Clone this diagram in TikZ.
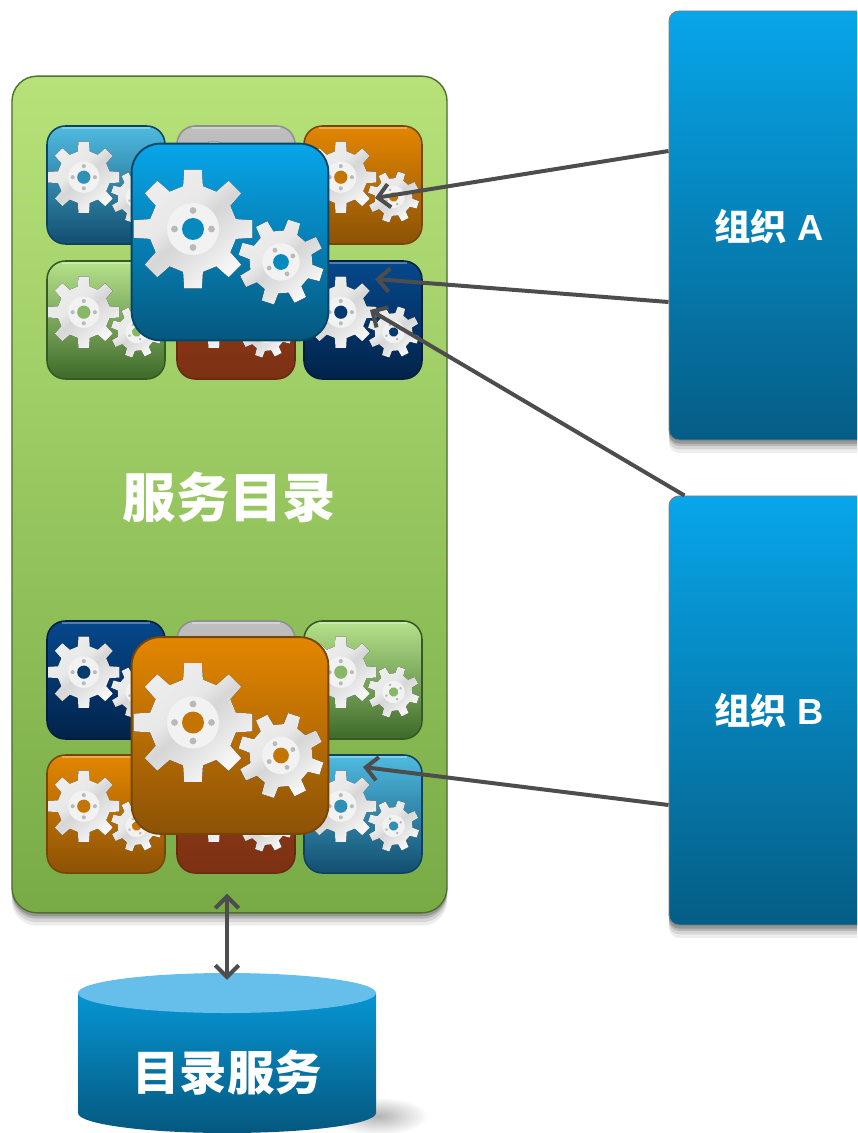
\documentclass[tikz,border=0pt]{standalone}
\usepackage{fontspec}
\setmainfont{Liberation Sans}
\newfontfamily\cjk{Noto Sans CJK SC}
\usetikzlibrary{shapes.geometric,shadows,arrows.meta}
\definecolor{skytop}{HTML}{07A6EA}
\definecolor{skybot}{HTML}{05587F}
\definecolor{skymid}{HTML}{0689BE}
\definecolor{palebluetop}{HTML}{4FBBE0}
\definecolor{palebluebot}{HTML}{124E70}
\definecolor{palebluemid}{HTML}{2F8FB4}
\definecolor{orangetop}{HTML}{E38600}
\definecolor{orangebot}{HTML}{8C5206}
\definecolor{orangemid}{HTML}{C47403}
\definecolor{navytop}{HTML}{05488C}
\definecolor{navybot}{HTML}{02234A}
\definecolor{navymid}{HTML}{033A70}
\definecolor{leaftop}{HTML}{B6E28C}
\definecolor{leafbot}{HTML}{3E6A2A}
\definecolor{leafmid}{HTML}{86B868}
\definecolor{greytop}{HTML}{BFBFBF}
\definecolor{greybot}{HTML}{A8A8A8}
\definecolor{rusttop}{HTML}{943D1A}
\definecolor{rustbot}{HTML}{7C3113}
\definecolor{paneltop}{HTML}{B7E27A}
\definecolor{panelbot}{HTML}{78AB46}
\definecolor{storetop}{HTML}{66BFEA}
\definecolor{arrowgrey}{HTML}{4D4D4D}
\pgfdeclarehorizontalshading{gearmetal}{100bp}{color(0bp)=(white!92!gray); color(42bp)=(white!82!gray); color(50bp)=(white!68!gray); color(60bp)=(white!78!gray); color(72bp)=(white!93!gray); color(100bp)=(white!88!gray)}
\tikzset{
  softshadow/.style={
    drop shadow={shadow xshift=0pt,shadow yshift=-11pt,opacity=.07,fill=black},
    drop shadow={shadow xshift=0pt,shadow yshift=-8pt,opacity=.10,fill=black},
    drop shadow={shadow xshift=0pt,shadow yshift=-5pt,opacity=.14,fill=black},
    drop shadow={shadow xshift=0pt,shadow yshift=-3pt,opacity=.18,fill=black}},
  panel/.style={draw=black!35!panelbot,line width=1.2pt,rounded corners=.75cm,minimum width=13.05cm,minimum height=25.1cm,
    top color=paneltop,bottom color=panelbot,softshadow},
  org/.style={draw=black!50,line width=.8pt,rounded corners=.3cm,minimum width=6.6cm,minimum height=12.87cm,
    top color=skytop,bottom color=skybot!90!skymid,softshadow},
  tile/.style={line width=1.3pt,rounded corners=.55cm,minimum size=3.54cm},
  bigtile/.style={line width=1.6pt,rounded corners=.85cm,minimum size=5.9cm},
  label/.style={text=white,font=\bfseries},
  link/.style={draw=arrowgrey,line width=3.4pt,-{Straight Barb[length=10pt,width=20pt,line width=3.4pt]}},
  twolink/.style={draw=arrowgrey,line width=3.4pt,{Straight Barb[length=10pt,width=20pt,line width=3.4pt]}-{Straight Barb[length=10pt,width=20pt,line width=3.4pt]}}
}
% one wheel: centre, radius, rotation, colour of the hole
\newcommand{\gearwheel}[4]{
  \begin{scope}[shift={(#1)},rotate=#3,scale=#2/60]
    \fill[shading=gearmetal,shading angle=-50] (-13:44)
      \foreach \a in {0,45,...,315} {-- (\a-13:44) -- (\a-8.5:60) -- (\a+8.5:60) -- (\a+13:44)} -- cycle;
    \fill[white!90!gray] (0,0) circle (26);
    \fill[#4] (0,0) circle (11);
    \foreach \a in {0,90,180,270} \fill[gray!55] (\a:18.5) circle (3.4);
  \end{scope}
}
\newcommand{\gearpair}[3]{
  \begin{scope}[shift={(#1)},scale=#2]
    \gearwheel{-37,-13}{60}{0}{#3}
    \gearwheel{51,20}{43}{27}{#3}
  \end{scope}
}
\begin{document}
\begin{tikzpicture}[x=.03cm,y=-.03cm]
  \path[use as bounding box,clip] (0,0) rectangle (857,1133);

  \node[panel] (catalog) at (229.5,494.5) {};

  % small tiles of both groups
  \foreach \name/\x/\y/\ctop/\cbot/\cmid in {
      ua/106/185/palebluetop/palebluebot/palebluemid,
      ub/236/185/greytop/greybot/greytop,
      uc/363/185/orangetop/orangebot/orangemid,
      ud/106/320/leaftop/leafbot/leafmid,
      ue/236/320/rusttop/rustbot/rusttop,
      uf/363/320/navytop/navybot/navymid,
      la/106/680/navytop/navybot/navymid,
      lb/236/680/greytop/greybot/greytop,
      lc/363/680/leaftop/leafbot/leafmid,
      ld/106/814/orangetop/orangebot/orangemid,
      le/236/814/rusttop/rustbot/rusttop,
      lf/363/814/palebluetop/palebluebot/palebluemid} {
    \node[tile,draw=\cbot!85!black,top color=\ctop,bottom color=\cbot] (\name) at (\x,\y) {};
    \draw[white,opacity=.3,line width=1.5pt] ([shift={(16,3)}]\name.north west) -- ([shift={(-16,3)}]\name.north east);
    \gearpair{\name.center}{.6}{\cmid}
  }

  \node[bigtile,draw=skybot!80!black,top color=skytop,bottom color=skybot] (upper) at (230,242) {};
  \gearpair{upper.center}{1}{skymid}
  \node[bigtile,draw=orangebot!85!black,top color=orangetop,bottom color=orangebot] (lower) at (230,735.5) {};
  \gearpair{lower.center}{1}{orangemid}

  \node[label,font=\bfseries\fontsize{45.5}{45.5}\selectfont\cjk] (catalogtext) at (229.5,497) {服务目录};

  \node[org] (orga) at (779,225.5) {};
  \node[org] (orgb) at (779,710.5) {};
  \node[label,font=\bfseries\fontsize{31}{31}\selectfont] (orgatext) at (769,227) {{\cjk 组织} A};
  \node[label,font=\bfseries\fontsize{31}{31}\selectfont] (orgbtext) at (769,711) {{\cjk 组织} B};

  % directory store
  \shade[inner color=gray!60,outer color=white] (378,1116) ellipse (50 and 19);
  \shade[top color=skytop!90!black,bottom color=skybot] (78,993) -- (78,1113) arc (180:0:149 and 20) -- (376,993) -- cycle;
  \node[ellipse,fill=storetop,minimum width=8.94cm,minimum height=1.2cm,inner sep=0pt] (store) at (227,993) {};
  \node[label,font=\bfseries\fontsize{40.5}{40.5}\selectfont\cjk] (storetext) at (227,1073) {目录服务};

  \draw[link] ([yshift=74.5*.03cm]orga.west) -- ([shift={(12,13)}]uc.center);
  \draw[link] ([yshift=-76.5*.03cm]orga.west) -- ([shift={(12,-41)}]uf.center);
  \draw[link] ([shift={(16,0)}]orgb.north west) -- ([shift={(7,-10)}]uf.center);
  \draw[link] ([yshift=-94.5*.03cm]orgb.west) -- ([shift={(0,-47)}]lf.center);
  \draw[twolink] ([yshift=17pt]catalog.south -| store.north) -- ([yshift=-6pt]store.north);
\end{tikzpicture}
\end{document}
